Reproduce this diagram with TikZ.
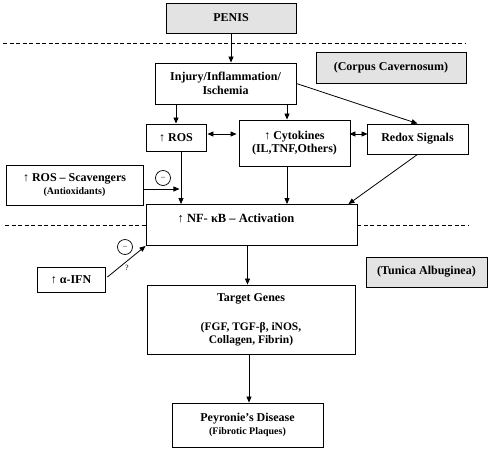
\documentclass[tikz,border=0pt]{standalone}
\usepackage{fontspec}
\setmainfont{Liberation Serif}
\usetikzlibrary{arrows.meta,calc}
\begin{document}
\begin{tikzpicture}[x=1pt,y=-1pt,
  box/.style={draw,line width=0.9pt,inner sep=1pt,align=center,font=\bfseries\fontsize{12}{13.5}\selectfont},
  shade/.style={box,fill=gray!22},
  arr/.style={line width=0.8pt,-{Triangle[length=6pt,width=5pt]}},
  darr/.style={line width=0.8pt,{Triangle[length=6pt,width=5pt]}-{Triangle[length=6pt,width=5pt]}},
  sep/.style={line width=0.7pt,dash pattern=on 4pt off 2.5pt},
  inh/.style={draw,circle,line width=0.7pt,minimum size=15pt,inner sep=0pt,font=\fontsize{8}{8}\selectfont},
  small/.style={font=\bfseries\fontsize{9.5}{11}\selectfont}]
\useasboundingbox (0,0) rectangle (500,450);

\node[shade,minimum width=130pt,minimum height=30pt] (penis) at (231,18) {PENIS};
\node[shade,minimum width=150pt,minimum height=31pt] (corpus) at (391,67.5) {(Corpus Cavernosum)};
\node[box,minimum width=141pt,minimum height=41pt] (injury) at (225.5,83.5) {Injury/Inflammation/\\Ischemia};
\node[box,minimum width=60pt,minimum height=27pt] (ros) at (176,137.5) {↑ ROS};
\node[box,minimum width=111pt,minimum height=46pt] (cyto) at (294.5,143) {↑ Cytokines\\(IL,TNF,Others)};
\node[box,minimum width=101pt,minimum height=30pt] (redox) at (417.5,139) {Redox Signals};
\node[box,minimum width=137pt,minimum height=40pt] (scav) at (74.5,185) {↑ ROS – Scavengers\\{\fontsize{10}{11.5}\selectfont(Antioxidants)}};
\node[box,minimum width=211pt,minimum height=41pt] (nf) at (251.5,225) {};
\node[box,draw=none,font=\bfseries\fontsize{12.5}{14}\selectfont] (nftext) at (236,218) {↑ NF- κB – Activation};
\node[box,minimum width=68pt,minimum height=25pt] (ifn) at (71,280) {↑ α-IFN};
\node[shade,minimum width=121pt,minimum height=30pt] (tunica) at (426.5,272) {(Tunica Albuginea)};
\node[box,minimum width=208pt,minimum height=69pt] (target) at (251,319.5) {};
\node[box,draw=none] (tgtext) at (251,320) {Target Genes\\[15pt]{\fontsize{11.5}{14}\selectfont(FGF, TGF-β, iNOS,}\\{\fontsize{11.5}{14}\selectfont Collagen, Fibrin)}};
\node[box,minimum width=151pt,minimum height=44pt] (pey) at (247.5,425) {Peyronie’s Disease\\{\fontsize{10}{11.5}\selectfont(Fibrotic Plaques)}};

% dashed separators
\coordinate (d1a) at (3,43);
\coordinate (d1b) at (466,43);
\draw[sep] (d1a) -- (d1b);
\coordinate (d2a) at (5,225);
\draw[sep] (d2a) -- (d2a -| nf.west);
\coordinate (d2b) at (468,225);
\draw[sep] (nf.east) -- (d2b);

% arrows
\draw[arr] (penis.south) -- (penis.south |- injury.north);
\draw[arr] (injury.south -| ros.north) -- (ros.north);
\draw[arr] ($(injury.south -| cyto.north)+(-7.5,0)$) -- ($(cyto.north)+(-7.5,0)$);
\draw[arr] (injury.east) -- (redox.north);
\draw[darr] ($(ros.east)+(1,-3.5)$) -- ($(cyto.west)+(-2,-9)$);
\draw[darr] ($(cyto.east)+(-1,-9)$) -- ($(redox.west)+(1,-5)$);

\coordinate (rosx) at ($(ros.south)+(5,0)$);
\draw[arr] (rosx) -- (rosx |- nf.north);
\coordinate (scavend) at ($(scav.east)+(36,4)$);
\draw[arr] ($(scav.east)+(0,4)$) -- (scavend);
\node[inh] (inh1) at (163,178) {\raisebox{-2pt}{–}};

\draw[arr] ($(cyto.south)+(-7.5,0)$) -- ($(cyto.south |- nf.north)+(-7.5,0)$);
\draw[arr] (redox.south) -- ($(nf.north east)+(-9,0)$);

\draw[arr] ($(ifn.east)+(2,-3)$) -- (nf.south west);
\node[inh] (inh2) at (125,247) {\raisebox{-2pt}{–}};
\node[font=\fontsize{8}{8}\selectfont] (q) at (127,268) {?};

\draw[arr] ($(nf.south)+(-4,0)$) -- ($(nf.south |- target.north)+(-4,0)$);
\draw[arr] ($(target.south)+(-2,0)$) -- ($(target.south |- pey.north)+(-2,0)$);
\end{tikzpicture}
\end{document}
